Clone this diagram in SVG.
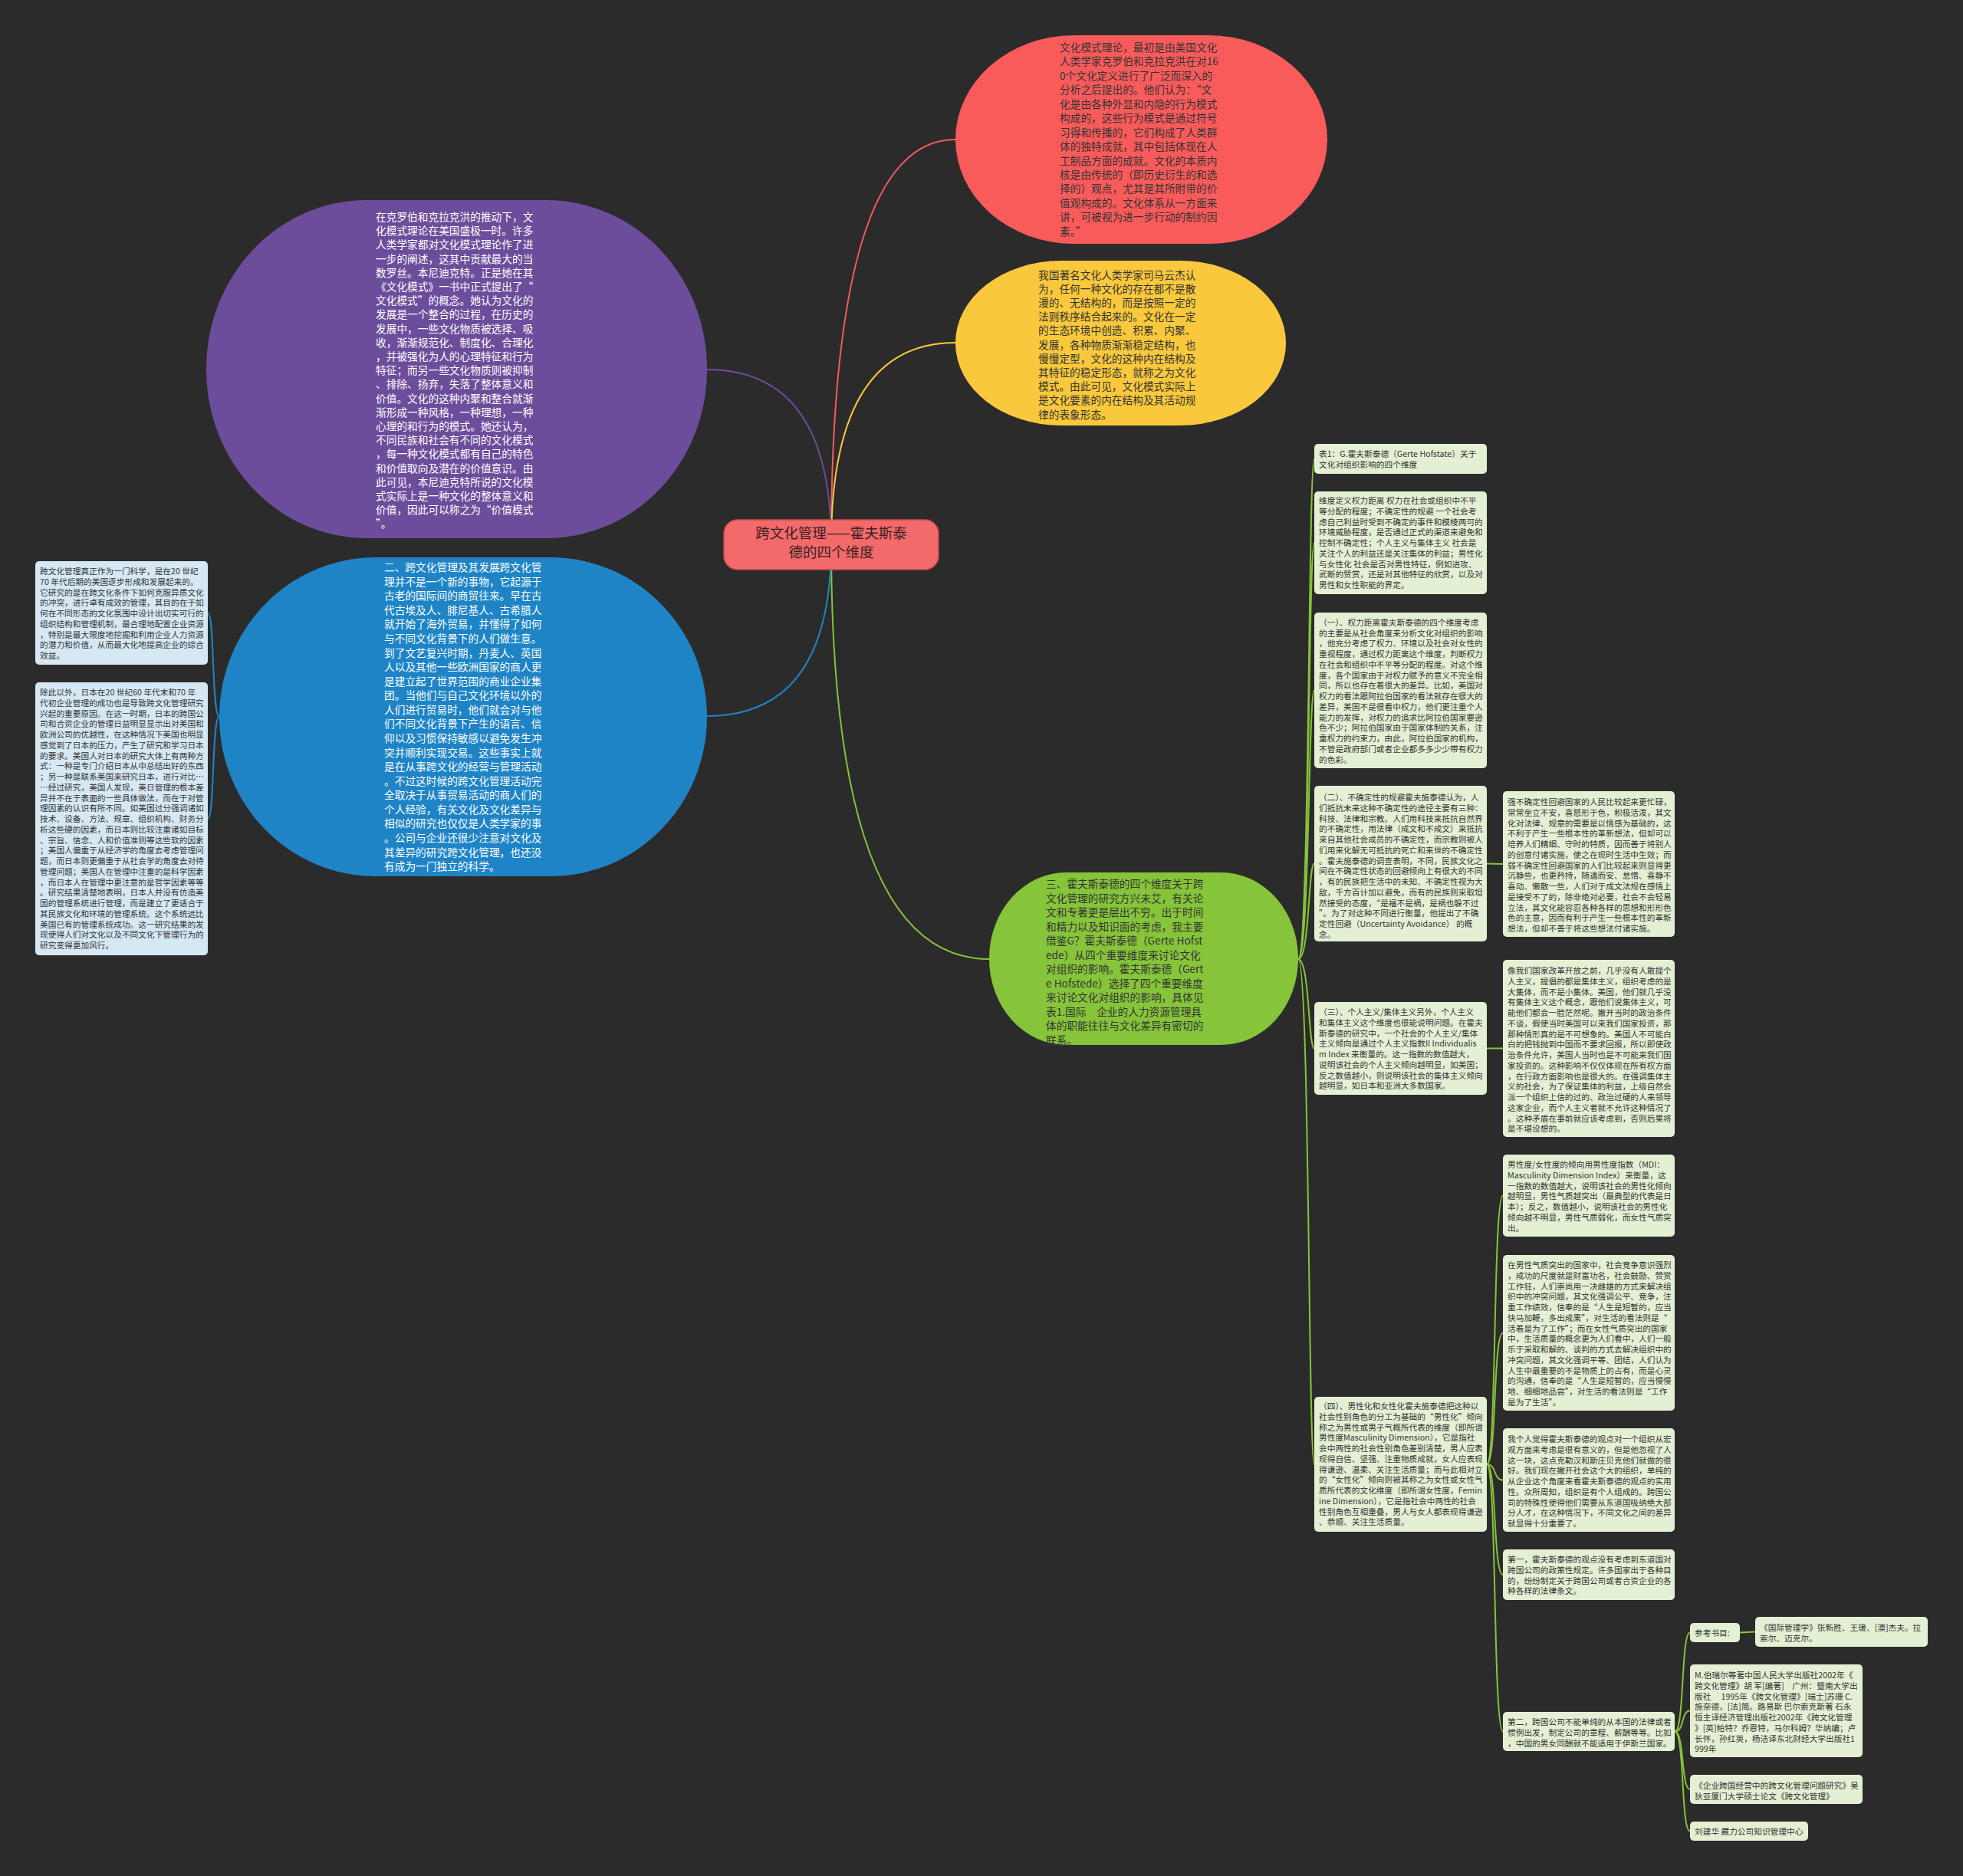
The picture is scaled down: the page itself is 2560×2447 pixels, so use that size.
<svg xmlns="http://www.w3.org/2000/svg" width="2560" height="2447" viewBox="0 0 2560 2447">
<style>
text{font-family:"Noto Sans CJK SC","Noto Sans",sans-serif;}
.e{font-size:13.7px;}
.ew{fill:#ffffff;}
.ed{fill:#333333;}
.b{font-size:10.7px;fill:#333333;}
.box{fill:#e4f0d3;}
.lbox{fill:#d6e8f4;}
.cn{fill:none;stroke-width:2;}
.g{stroke:#86c43a;}
</style>
<rect x="0" y="0" width="2560" height="2447" fill="#2b2b2b"/>
<g id="connectors">
<path class="cn" stroke="#f95b5b" d="M1084 710 Q1084 182 1246 182"/>
<path class="cn" stroke="#f9c83c" d="M1084 710 Q1084 447 1246 447"/>
<path class="cn g" d="M1084 710 Q1084 1251 1290 1251"/>
<path class="cn" stroke="#6c4d9b" d="M1084 710 Q1084 482 922 482"/>
<path class="cn" stroke="#1e84c6" d="M1084 710 Q1084 934 922 934"/>
<path class="cn" stroke="#1e84c6" d="M286 935 C276 935 280 799.5 271 799.5"/>
<path class="cn" stroke="#1e84c6" d="M286 935 C276 935 280 1068 271 1068"/>
<path class="cn g" d="M1693 1251 C1708 1251 1706 598.5 1714 598.5"/>
<path class="cn g" d="M1693 1251 C1708 1251 1706 708 1714 708"/>
<path class="cn g" d="M1693 1251 C1708 1251 1706 900.5 1714 900.5"/>
<path class="cn g" d="M1693 1251 C1708 1251 1706 1126.5 1714 1126.5"/>
<path class="cn g" d="M1693 1251 C1708 1251 1706 1367.5 1714 1367.5"/>
<path class="cn g" d="M1693 1251 C1708 1251 1706 1910 1714 1910"/>
<path class="cn g" d="M1939 1126.5 L1960 1127"/>
<path class="cn g" d="M1939 1367.5 L1960 1367.5"/>
<path class="cn g" d="M1939 1910 C1952 1910 1947 1559.5 1960 1559.5"/>
<path class="cn g" d="M1939 1910 C1952 1910 1947 1738.5 1960 1738.5"/>
<path class="cn g" d="M1939 1910 C1952 1910 1947 1930.5 1960 1930.5"/>
<path class="cn g" d="M1939 1910 C1952 1910 1947 2054 1960 2054"/>
<path class="cn g" d="M1939 1910 C1952 1910 1947 2258.5 1960 2258.5"/>
<path class="cn g" d="M2184 2258.5 C2197 2258.5 2192 2129.5 2204 2129.5"/>
<path class="cn g" d="M2184 2258.5 C2197 2258.5 2192 2231.5 2204 2231.5"/>
<path class="cn g" d="M2184 2258.5 C2197 2258.5 2192 2334 2204 2334"/>
<path class="cn g" d="M2184 2258.5 C2197 2258.5 2192 2388.5 2204 2388.5"/>
<path class="cn g" d="M2269 2129.5 L2289 2128.5"/>
</g>
<g id="center">
<rect x="944" y="678" width="280" height="65" rx="18" fill="#f26a6a" stroke="#c94a4a" stroke-width="1.5"/>
<text x="1084" y="702" text-anchor="middle" font-size="18.5" fill="#3a1f1f"><tspan x="1084" dy="0">跨文化管理——霍夫斯泰</tspan><tspan x="1084" dy="25">德的四个维度</tspan></text>
</g>
<g id="red">
<rect x="1246" y="46" width="485" height="272" rx="155" ry="136" fill="#f95b5b"/>
<text class="e ed" x="1382" y="66.9"><tspan x="1382" dy="0">文化模式理论，最初是由美国文化</tspan><tspan x="1382" dy="18.46">人类学家克罗伯和克拉克洪在对16</tspan><tspan x="1382" dy="18.46">0个文化定义进行了广泛而深入的</tspan><tspan x="1382" dy="18.46">分析之后提出的。他们认为：“文</tspan><tspan x="1382" dy="18.46">化是由各种外显和内隐的行为模式</tspan><tspan x="1382" dy="18.46">构成的，这些行为模式是通过符号</tspan><tspan x="1382" dy="18.46">习得和传播的，它们构成了人类群</tspan><tspan x="1382" dy="18.46">体的独特成就，其中包括体现在人</tspan><tspan x="1382" dy="18.46">工制品方面的成就。文化的本质内</tspan><tspan x="1382" dy="18.46">核是由传统的（即历史衍生的和选</tspan><tspan x="1382" dy="18.46">择的）观点，尤其是其所附带的价</tspan><tspan x="1382" dy="18.46">值观构成的。文化体系从一方面来</tspan><tspan x="1382" dy="18.46">讲，可被视为进一步行动的制约因</tspan><tspan x="1382" dy="18.46">素。”</tspan></text>
</g>
<g id="yellow">
<rect x="1246" y="340" width="431" height="215" rx="138" ry="107" fill="#f9c83c"/>
<text class="e ed" x="1354" y="363.5"><tspan x="1354" dy="0">我国著名文化人类学家司马云杰认</tspan><tspan x="1354" dy="18.2">为，任何一种文化的存在都不是散</tspan><tspan x="1354" dy="18.2">漫的、无结构的，而是按照一定的</tspan><tspan x="1354" dy="18.2">法则秩序结合起来的。文化在一定</tspan><tspan x="1354" dy="18.2">的生态环境中创造、积累、内聚、</tspan><tspan x="1354" dy="18.2">发展，各种物质渐渐稳定结构，也</tspan><tspan x="1354" dy="18.2">慢慢定型，文化的这种内在结构及</tspan><tspan x="1354" dy="18.2">其特征的稳定形态，就称之为文化</tspan><tspan x="1354" dy="18.2">模式。由此可见，文化模式实际上</tspan><tspan x="1354" dy="18.2">是文化要素的内在结构及其活动规</tspan><tspan x="1354" dy="18.2">律的表象形态。</tspan></text>
</g>
<g id="purple">
<rect x="269" y="261" width="653" height="441" rx="209" ry="220" fill="#6c4d9b"/>
<text class="e ew" x="490" y="288"><tspan x="490" dy="0">在克罗伯和克拉克洪的推动下，文</tspan><tspan x="490" dy="18.2">化模式理论在美国盛极一时。许多</tspan><tspan x="490" dy="18.2">人类学家都对文化模式理论作了进</tspan><tspan x="490" dy="18.2">一步的阐述，这其中贡献最大的当</tspan><tspan x="490" dy="18.2">数罗丝。本尼迪克特。正是她在其</tspan><tspan x="490" dy="18.2">《文化模式》一书中正式提出了“</tspan><tspan x="490" dy="18.2">文化模式”的概念。她认为文化的</tspan><tspan x="490" dy="18.2">发展是一个整合的过程，在历史的</tspan><tspan x="490" dy="18.2">发展中，一些文化物质被选择、吸</tspan><tspan x="490" dy="18.2">收，渐渐规范化、制度化、合理化</tspan><tspan x="490" dy="18.2">，并被强化为人的心理特征和行为</tspan><tspan x="490" dy="18.2">特征；而另一些文化物质则被抑制</tspan><tspan x="490" dy="18.2">、排除、扬弃，失落了整体意义和</tspan><tspan x="490" dy="18.2">价值。文化的这种内聚和整合就渐</tspan><tspan x="490" dy="18.2">渐形成一种风格，一种理想，一种</tspan><tspan x="490" dy="18.2">心理的和行为的模式。她还认为，</tspan><tspan x="490" dy="18.2">不同民族和社会有不同的文化模式</tspan><tspan x="490" dy="18.2">，每一种文化模式都有自己的特色</tspan><tspan x="490" dy="18.2">和价值取向及潜在的价值意识。由</tspan><tspan x="490" dy="18.2">此可见，本尼迪克特所说的文化模</tspan><tspan x="490" dy="18.2">式实际上是一种文化的整体意义和</tspan><tspan x="490" dy="18.2">价值，因此可以称之为“价值模式</tspan><tspan x="490" dy="18.2">”。</tspan></text>
</g>
<g id="blue">
<rect x="286" y="727" width="636" height="416" rx="204" ry="208" fill="#1e84c6"/>
<text class="e ew" x="501" y="745.2"><tspan x="501" dy="0">二、跨文化管理及其发展跨文化管</tspan><tspan x="501" dy="18.57">理并不是一个新的事物，它起源于</tspan><tspan x="501" dy="18.57">古老的国际间的商贸往来。早在古</tspan><tspan x="501" dy="18.57">代古埃及人、腓尼基人、古希腊人</tspan><tspan x="501" dy="18.57">就开始了海外贸易，并懂得了如何</tspan><tspan x="501" dy="18.57">与不同文化背景下的人们做生意。</tspan><tspan x="501" dy="18.57">到了文艺复兴时期，丹麦人、英国</tspan><tspan x="501" dy="18.57">人以及其他一些欧洲国家的商人更</tspan><tspan x="501" dy="18.57">是建立起了世界范围的商业企业集</tspan><tspan x="501" dy="18.57">团。当他们与自己文化环境以外的</tspan><tspan x="501" dy="18.57">人们进行贸易时，他们就会对与他</tspan><tspan x="501" dy="18.57">们不同文化背景下产生的语言、信</tspan><tspan x="501" dy="18.57">仰以及习惯保持敏感以避免发生冲</tspan><tspan x="501" dy="18.57">突并顺利实现交易。这些事实上就</tspan><tspan x="501" dy="18.57">是在从事跨文化的经营与管理活动</tspan><tspan x="501" dy="18.57">。不过这时候的跨文化管理活动完</tspan><tspan x="501" dy="18.57">全取决于从事贸易活动的商人们的</tspan><tspan x="501" dy="18.57">个人经验，有关文化及文化差异与</tspan><tspan x="501" dy="18.57">相似的研究也仅仅是人类学家的事</tspan><tspan x="501" dy="18.57">。公司与企业还很少注意对文化及</tspan><tspan x="501" dy="18.57">其差异的研究跨文化管理，也还没</tspan><tspan x="501" dy="18.57">有成为一门独立的科学。</tspan></text>
</g>
<g id="green">
<rect x="1290" y="1138" width="403" height="225" rx="100" ry="112" fill="#86c43a"/>
<text class="e ed" x="1364" y="1158.2"><tspan x="1364" dy="0">三、霍夫斯泰德的四个维度关于跨</tspan><tspan x="1364" dy="18.5">文化管理的研究方兴未艾，有关论</tspan><tspan x="1364" dy="18.5">文和专著更是层出不穷。出于时间</tspan><tspan x="1364" dy="18.5">和精力以及知识面的考虑，我主要</tspan><tspan x="1364" dy="18.5">借鉴G？霍夫斯泰德（Gerte Hofst</tspan><tspan x="1364" dy="18.5">ede）从四个重要维度来讨论文化</tspan><tspan x="1364" dy="18.5">对组织的影响。霍夫斯泰德（Gert</tspan><tspan x="1364" dy="18.5">e Hofstede）选择了四个重要维度</tspan><tspan x="1364" dy="18.5">来讨论文化对组织的影响，具体见</tspan><tspan x="1364" dy="18.5">表1.国际　企业的人力资源管理具</tspan><tspan x="1364" dy="18.5">体的职能往往与文化差异有密切的</tspan><tspan x="1364" dy="18.5">联系。</tspan></text>
</g>
<g id="left-box-1">
<rect class="lbox" x="46" y="732" width="225" height="135" rx="5"/>
<text class="b" x="52" y="749.1"><tspan x="52" dy="0">跨文化管理真正作为一门科学，是在20 世纪</tspan><tspan x="52" dy="13.75">70 年代后期的美国逐步形成和发展起来的。</tspan><tspan x="52" dy="13.75">它研究的是在跨文化条件下如何克服异质文化</tspan><tspan x="52" dy="13.75">的冲突，进行卓有成效的管理，其目的在于如</tspan><tspan x="52" dy="13.75">何在不同形态的文化氛围中设计出切实可行的</tspan><tspan x="52" dy="13.75">组织结构和管理机制，最合理地配置企业资源</tspan><tspan x="52" dy="13.75">，特别是最大限度地挖掘和利用企业人力资源</tspan><tspan x="52" dy="13.75">的潜力和价值，从而最大化地提高企业的综合</tspan><tspan x="52" dy="13.75">效益。</tspan></text>
</g>
<g id="left-box-2">
<rect class="lbox" x="46" y="890" width="225" height="356" rx="5"/>
<text class="b" x="52" y="907.1"><tspan x="52" dy="0">除此以外，日本在20 世纪60 年代末和70 年</tspan><tspan x="52" dy="13.75">代初企业管理的成功也是导致跨文化管理研究</tspan><tspan x="52" dy="13.75">兴起的重要原因。在这一时期，日本的跨国公</tspan><tspan x="52" dy="13.75">司和合资企业的管理日益明显显示出对美国和</tspan><tspan x="52" dy="13.75">欧洲公司的优越性，在这种情况下美国也明显</tspan><tspan x="52" dy="13.75">感觉到了日本的压力，产生了研究和学习日本</tspan><tspan x="52" dy="13.75">的要求。美国人对日本的研究大体上有两种方</tspan><tspan x="52" dy="13.75">式：一种是专门介绍日本从中总结出好的东西</tspan><tspan x="52" dy="13.75">；另一种是联系美国来研究日本，进行对比…</tspan><tspan x="52" dy="13.75">…经过研究，美国人发现，美日管理的根本差</tspan><tspan x="52" dy="13.75">异并不在于表面的一些具体做法，而在于对管</tspan><tspan x="52" dy="13.75">理因素的认识有所不同。如美国过分强调诸如</tspan><tspan x="52" dy="13.75">技术、设备、方法、规章、组织机构、财务分</tspan><tspan x="52" dy="13.75">析这些硬的因素，而日本则比较注重诸如目标</tspan><tspan x="52" dy="13.75">、宗旨、信念、人和价值准则等这些软的因素</tspan><tspan x="52" dy="13.75">；美国人偏重于从经济学的角度去考虑管理问</tspan><tspan x="52" dy="13.75">题，而日本则更偏重于从社会学的角度去对待</tspan><tspan x="52" dy="13.75">管理问题；美国人在管理中注重的是科学因素</tspan><tspan x="52" dy="13.75">，而日本人在管理中更注意的是哲学因素等等</tspan><tspan x="52" dy="13.75">。研究结果清楚地表明，日本人并没有仿造美</tspan><tspan x="52" dy="13.75">国的管理系统进行管理，而是建立了更适合于</tspan><tspan x="52" dy="13.75">其民族文化和环境的管理系统。这个系统远比</tspan><tspan x="52" dy="13.75">美国已有的管理系统成功。这一研究结果的发</tspan><tspan x="52" dy="13.75">现使得人们对文化以及不同文化下管理行为的</tspan><tspan x="52" dy="13.75">研究变得更加风行。</tspan></text>
</g>
<g id="box-table">
<rect class="box" x="1714" y="579" width="225" height="39" rx="5"/>
<text class="b" x="1720" y="596.4"><tspan x="1720" dy="0">表1：G.霍夫斯泰德（Gerte Hofstate）关于</tspan><tspan x="1720" dy="13.75">文化对组织影响的四个维度</tspan></text>
</g>
<g id="box-definition">
<rect class="box" x="1714" y="641" width="225" height="134" rx="5"/>
<text class="b" x="1720" y="657.1"><tspan x="1720" dy="0">维度定义权力距离 权力在社会或组织中不平</tspan><tspan x="1720" dy="13.75">等分配的程度；不确定性的规避 一个社会考</tspan><tspan x="1720" dy="13.75">虑自己利益时受到不确定的事件和模棱两可的</tspan><tspan x="1720" dy="13.75">环境威胁程度，是否通过正式的渠道来避免和</tspan><tspan x="1720" dy="13.75">控制不确定性；个人主义与集体主义 社会是</tspan><tspan x="1720" dy="13.75">关注个人的利益还是关注集体的利益；男性化</tspan><tspan x="1720" dy="13.75">与女性化 社会是否对男性特征，例如进攻、</tspan><tspan x="1720" dy="13.75">武断的赞赏，还是对其他特征的欣赏，以及对</tspan><tspan x="1720" dy="13.75">男性和女性职能的界定。</tspan></text>
</g>
<g id="box-power">
<rect class="box" x="1714" y="799" width="225" height="203" rx="5"/>
<text class="b" x="1720" y="815.8"><tspan x="1720" dy="0">（一）、权力距离霍夫斯泰德的四个维度考虑</tspan><tspan x="1720" dy="13.75">的主要是从社会角度来分析文化对组织的影响</tspan><tspan x="1720" dy="13.75">，他充分考虑了权力、环境以及社会对女性的</tspan><tspan x="1720" dy="13.75">重视程度，通过权力距离这个维度，判断权力</tspan><tspan x="1720" dy="13.75">在社会和组织中不平等分配的程度。对这个维</tspan><tspan x="1720" dy="13.75">度，各个国家由于对权力赋予的意义不完全相</tspan><tspan x="1720" dy="13.75">同，所以也存在着很大的差异。比如，美国对</tspan><tspan x="1720" dy="13.75">权力的看法跟阿拉伯国家的看法就存在很大的</tspan><tspan x="1720" dy="13.75">差异，美国不是很看中权力，他们更注重个人</tspan><tspan x="1720" dy="13.75">能力的发挥，对权力的追求比阿拉伯国家要逊</tspan><tspan x="1720" dy="13.75">色不少；阿拉伯国家由于国家体制的关系，注</tspan><tspan x="1720" dy="13.75">重权力的约束力，由此，阿拉伯国家的机构，</tspan><tspan x="1720" dy="13.75">不管是政府部门或者企业都多多少少带有权力</tspan><tspan x="1720" dy="13.75">的色彩。</tspan></text>
</g>
<g id="box-uncertainty">
<rect class="box" x="1714" y="1025" width="225" height="203" rx="5"/>
<text class="b" x="1720" y="1044.1"><tspan x="1720" dy="0">（二）、不确定性的规避霍夫施泰德认为，人</tspan><tspan x="1720" dy="13.75">们抵抗未来这种不确定性的途径主要有三种：</tspan><tspan x="1720" dy="13.75">科技、法律和宗教。人们用科技来抵抗自然界</tspan><tspan x="1720" dy="13.75">的不确定性，用法律（成文和不成文）来抵抗</tspan><tspan x="1720" dy="13.75">来自其他社会成员的不确定性，而宗教则被人</tspan><tspan x="1720" dy="13.75">们用来化解无可抵抗的死亡和来世的不确定性</tspan><tspan x="1720" dy="13.75">。霍夫施泰德的调查表明，不同，民族文化之</tspan><tspan x="1720" dy="13.75">间在不确定性状态的回避倾向上有很大的不同</tspan><tspan x="1720" dy="13.75">，有的民族把生活中的未知、不确定性视为大</tspan><tspan x="1720" dy="13.75">敌，千方百计加以避免，而有的民族则采取坦</tspan><tspan x="1720" dy="13.75">然接受的态度，“是福不是祸，是祸也躲不过</tspan><tspan x="1720" dy="13.75">”。为了对这种不同进行衡量，他提出了不确</tspan><tspan x="1720" dy="13.75">定性回避（Uncertainty Avoidance） 的概</tspan><tspan x="1720" dy="13.75">念。</tspan></text>
</g>
<g id="box-uncertainty-note">
<rect class="box" x="1960" y="1032" width="224" height="190" rx="5"/>
<text class="b" x="1966" y="1050.1"><tspan x="1966" dy="0">强不确定性回避国家的人民比较起来更忙碌，</tspan><tspan x="1966" dy="13.75">常常坐立不安，喜怒形于色，积极活泼，其文</tspan><tspan x="1966" dy="13.75">化对法律、规章的需要是以情感为基础的，这</tspan><tspan x="1966" dy="13.75">不利于产生一些根本性的革新想法，但却可以</tspan><tspan x="1966" dy="13.75">培养人们精细、守时的特质，因而善于将别人</tspan><tspan x="1966" dy="13.75">的创意付诸实施，使之在现时生活中生效；而</tspan><tspan x="1966" dy="13.75">弱不确定性回避国家的人们比较起来则显得更</tspan><tspan x="1966" dy="13.75">沉静些，也更矜持，随遇而安、怠惰、喜静不</tspan><tspan x="1966" dy="13.75">喜动、懒散一些，人们对于成文法规在感情上</tspan><tspan x="1966" dy="13.75">是接受不了的，除非绝对必要，社会不会轻易</tspan><tspan x="1966" dy="13.75">立法，其文化能容忍各种各样的思想和形形色</tspan><tspan x="1966" dy="13.75">色的主意，因而有利于产生一些根本性的革新</tspan><tspan x="1966" dy="13.75">想法，但却不善于将这些想法付诸实施。</tspan></text>
</g>
<g id="box-individualism">
<rect class="box" x="1714" y="1307" width="225" height="121" rx="5"/>
<text class="b" x="1720" y="1324.1"><tspan x="1720" dy="0">（三）、个人主义/集体主义另外，个人主义</tspan><tspan x="1720" dy="13.75">和集体主义这个维度也很能说明问题。在霍夫</tspan><tspan x="1720" dy="13.75">斯泰德的研究中，一个社会的个人主义/集体</tspan><tspan x="1720" dy="13.75">主义倾向是通过个人主义指数II Individualis</tspan><tspan x="1720" dy="13.75">m Index 来衡量的。这一指数的数值越大，</tspan><tspan x="1720" dy="13.75">说明该社会的个人主义倾向越明显，如美国；</tspan><tspan x="1720" dy="13.75">反之数值越小，则说明该社会的集体主义倾向</tspan><tspan x="1720" dy="13.75">越明显，如日本和亚洲大多数国家。</tspan></text>
</g>
<g id="box-individualism-note">
<rect class="box" x="1960" y="1252" width="224" height="231" rx="5"/>
<text class="b" x="1966" y="1270.1"><tspan x="1966" dy="0">像我们国家改革开放之前，几乎没有人敢提个</tspan><tspan x="1966" dy="13.75">人主义，提倡的都是集体主义，组织考虑的是</tspan><tspan x="1966" dy="13.75">大集体，而不是小集体。美国，他们就几乎没</tspan><tspan x="1966" dy="13.75">有集体主义这个概念，跟他们说集体主义，可</tspan><tspan x="1966" dy="13.75">能他们都会一脸茫然呢。撇开当时的政治条件</tspan><tspan x="1966" dy="13.75">不谈，假使当时美国可以来我们国家投资，那</tspan><tspan x="1966" dy="13.75">那种情形真的是不可想象的。美国人不可能白</tspan><tspan x="1966" dy="13.75">白的把钱抛到中国而不要求回报，所以即使政</tspan><tspan x="1966" dy="13.75">治条件允许，美国人当时也是不可能来我们国</tspan><tspan x="1966" dy="13.75">家投资的。这种影响不仅仅体现在所有权方面</tspan><tspan x="1966" dy="13.75">，在行政方面影响也是很大的。在强调集体主</tspan><tspan x="1966" dy="13.75">义的社会，为了保证集体的利益，上级自然会</tspan><tspan x="1966" dy="13.75">派一个组织上信的过的、政治过硬的人来领导</tspan><tspan x="1966" dy="13.75">这家企业，而个人主义者就不允许这种情况了</tspan><tspan x="1966" dy="13.75">。这种矛盾在事前就应该考虑到，否则后果将</tspan><tspan x="1966" dy="13.75">是不堪设想的。</tspan></text>
</g>
<g id="box-masculinity">
<rect class="box" x="1714" y="1822" width="225" height="176" rx="5"/>
<text class="b" x="1720" y="1838.1"><tspan x="1720" dy="0">（四）、男性化和女性化霍夫施泰德把这种以</tspan><tspan x="1720" dy="13.75">社会性别角色的分工为基础的“男性化”倾向</tspan><tspan x="1720" dy="13.75">称之为男性或男子气概所代表的维度（即所谓</tspan><tspan x="1720" dy="13.75">男性度Masculinity Dimension），它是指社</tspan><tspan x="1720" dy="13.75">会中两性的社会性别角色差别清楚，男人应表</tspan><tspan x="1720" dy="13.75">现得自信、坚强、注重物质成就，女人应表现</tspan><tspan x="1720" dy="13.75">得谦逊、温柔、关注生活质量；而与此相对立</tspan><tspan x="1720" dy="13.75">的“女性化”倾向则被其称之为女性或女性气</tspan><tspan x="1720" dy="13.75">质所代表的文化维度（即所谓女性度，Femin</tspan><tspan x="1720" dy="13.75">ine Dimension），它是指社会中两性的社会</tspan><tspan x="1720" dy="13.75">性别角色互相重叠，男人与女人都表现得谦逊</tspan><tspan x="1720" dy="13.75">、恭顺、关注生活质量。</tspan></text>
</g>
<g id="box-mdi">
<rect class="box" x="1960" y="1506" width="224" height="107" rx="5"/>
<text class="b" x="1966" y="1523.1"><tspan x="1966" dy="0">男性度/女性度的倾向用男性度指数（MDI：</tspan><tspan x="1966" dy="13.75">Masculinity Dimension Index）来衡量，这</tspan><tspan x="1966" dy="13.75">一指数的数值越大，说明该社会的男性化倾向</tspan><tspan x="1966" dy="13.75">越明显，男性气质越突出（最典型的代表是日</tspan><tspan x="1966" dy="13.75">本）；反之，数值越小，说明该社会的男性化</tspan><tspan x="1966" dy="13.75">倾向越不明显，男性气质弱化，而女性气质突</tspan><tspan x="1966" dy="13.75">出。</tspan></text>
</g>
<g id="box-masculine-countries">
<rect class="box" x="1960" y="1637" width="224" height="203" rx="5"/>
<text class="b" x="1966" y="1654.1"><tspan x="1966" dy="0">在男性气质突出的国家中，社会竞争意识强烈</tspan><tspan x="1966" dy="13.75">，成功的尺度就是财富功名，社会鼓励、赞赏</tspan><tspan x="1966" dy="13.75">工作狂，人们崇尚用一决雌雄的方式来解决组</tspan><tspan x="1966" dy="13.75">织中的冲突问题，其文化强调公平、竞争，注</tspan><tspan x="1966" dy="13.75">重工作绩效，信奉的是“人生是短暂的，应当</tspan><tspan x="1966" dy="13.75">快马加鞭，多出成果”，对生活的看法则是“</tspan><tspan x="1966" dy="13.75">活着是为了工作”；而在女性气质突出的国家</tspan><tspan x="1966" dy="13.75">中，生活质量的概念更为人们看中，人们一般</tspan><tspan x="1966" dy="13.75">乐于采取和解的、谈判的方式去解决组织中的</tspan><tspan x="1966" dy="13.75">冲突问题，其文化强调平等、团结，人们认为</tspan><tspan x="1966" dy="13.75">人生中最重要的不是物质上的占有，而是心灵</tspan><tspan x="1966" dy="13.75">的沟通，信奉的是“人生是短暂的，应当慢慢</tspan><tspan x="1966" dy="13.75">地、细细地品尝”，对生活的看法则是“工作</tspan><tspan x="1966" dy="13.75">是为了生活”。</tspan></text>
</g>
<g id="box-opinion">
<rect class="box" x="1960" y="1863" width="224" height="135" rx="5"/>
<text class="b" x="1966" y="1881.1"><tspan x="1966" dy="0">我个人觉得霍夫斯泰德的观点对一个组织从宏</tspan><tspan x="1966" dy="13.75">观方面来考虑是很有意义的，但是他忽视了人</tspan><tspan x="1966" dy="13.75">这一块，这点克勒汉和斯庄贝克他们就做的很</tspan><tspan x="1966" dy="13.75">好。我们现在撇开社会这个大的组织，单纯的</tspan><tspan x="1966" dy="13.75">从企业这个角度来看霍夫斯泰德的观点的实用</tspan><tspan x="1966" dy="13.75">性。众所周知，组织是有个人组成的。跨国公</tspan><tspan x="1966" dy="13.75">司的特殊性使得他们需要从东道国吸纳绝大部</tspan><tspan x="1966" dy="13.75">分人才，在这种情况下，不同文化之间的差异</tspan><tspan x="1966" dy="13.75">就显得十分重要了。</tspan></text>
</g>
<g id="box-first">
<rect class="box" x="1960" y="2021" width="224" height="66" rx="5"/>
<text class="b" x="1966" y="2038.1"><tspan x="1966" dy="0">第一，霍夫斯泰德的观点没有考虑到东道国对</tspan><tspan x="1966" dy="13.75">跨国公司的政策性规定。许多国家出于各种目</tspan><tspan x="1966" dy="13.75">的，纷纷制定关于跨国公司或者合资企业的各</tspan><tspan x="1966" dy="13.75">种各样的法律条文。</tspan></text>
</g>
<g id="box-second">
<rect class="box" x="1960" y="2233" width="224" height="51" rx="5"/>
<text class="b" x="1966" y="2250.1"><tspan x="1966" dy="0">第二，跨国公司不能单纯的从本国的法律或者</tspan><tspan x="1966" dy="13.75">惯例出发，制定公司的章程、薪酬等等。比如</tspan><tspan x="1966" dy="13.75">，中国的男女同酬就不能适用于伊斯兰国家。</tspan></text>
</g>
<g id="box-refs-title">
<rect class="box" x="2204" y="2117" width="65" height="25" rx="5"/>
<text class="b" x="2210" y="2134.1">参考书目:</text>
</g>
<g id="box-ref-1">
<rect class="box" x="2289" y="2109" width="225" height="39" rx="5"/>
<text class="b" x="2295" y="2127.1"><tspan x="2295" dy="0">《国际管理学》张新胜、王瑗、[澳]杰夫。拉</tspan><tspan x="2295" dy="13.75">索尔、迈克尔。</tspan></text>
</g>
<g id="box-ref-2">
<rect class="box" x="2204" y="2171" width="225" height="121" rx="5"/>
<text class="b" x="2210" y="2189.1"><tspan x="2210" dy="0">M.伯瑞尔等著中国人民大学出版社2002年《</tspan><tspan x="2210" dy="13.75">跨文化管理》胡 军[编著]　广州：暨南大学出</tspan><tspan x="2210" dy="13.75">版社　 1995年《跨文化管理》[瑞士]苏珊 C.</tspan><tspan x="2210" dy="13.75">施奈德，[法]简。路易斯 巴尔索克斯著  石永</tspan><tspan x="2210" dy="13.75">恒主译经济管理出版社2002年《跨文化管理</tspan><tspan x="2210" dy="13.75">》[英]帕特？乔恩特，马尔科姆？华纳编；卢</tspan><tspan x="2210" dy="13.75">长怀，孙红英，杨洁译东北财经大学出版社1</tspan><tspan x="2210" dy="13.75">999年</tspan></text>
</g>
<g id="box-ref-3">
<rect class="box" x="2204" y="2315" width="225" height="38" rx="5"/>
<text class="b" x="2210" y="2333.1"><tspan x="2210" dy="0">《企业跨国经营中的跨文化管理问题研究》吴</tspan><tspan x="2210" dy="13.75">狄亚厦门大学硕士论文《跨文化管理》</tspan></text>
</g>
<g id="box-ref-4">
<rect class="box" x="2204" y="2376" width="154" height="25" rx="5"/>
<text class="b" x="2210" y="2393.1">刘建华 藏力公司知识管理中心</text>
</g>
</svg>
